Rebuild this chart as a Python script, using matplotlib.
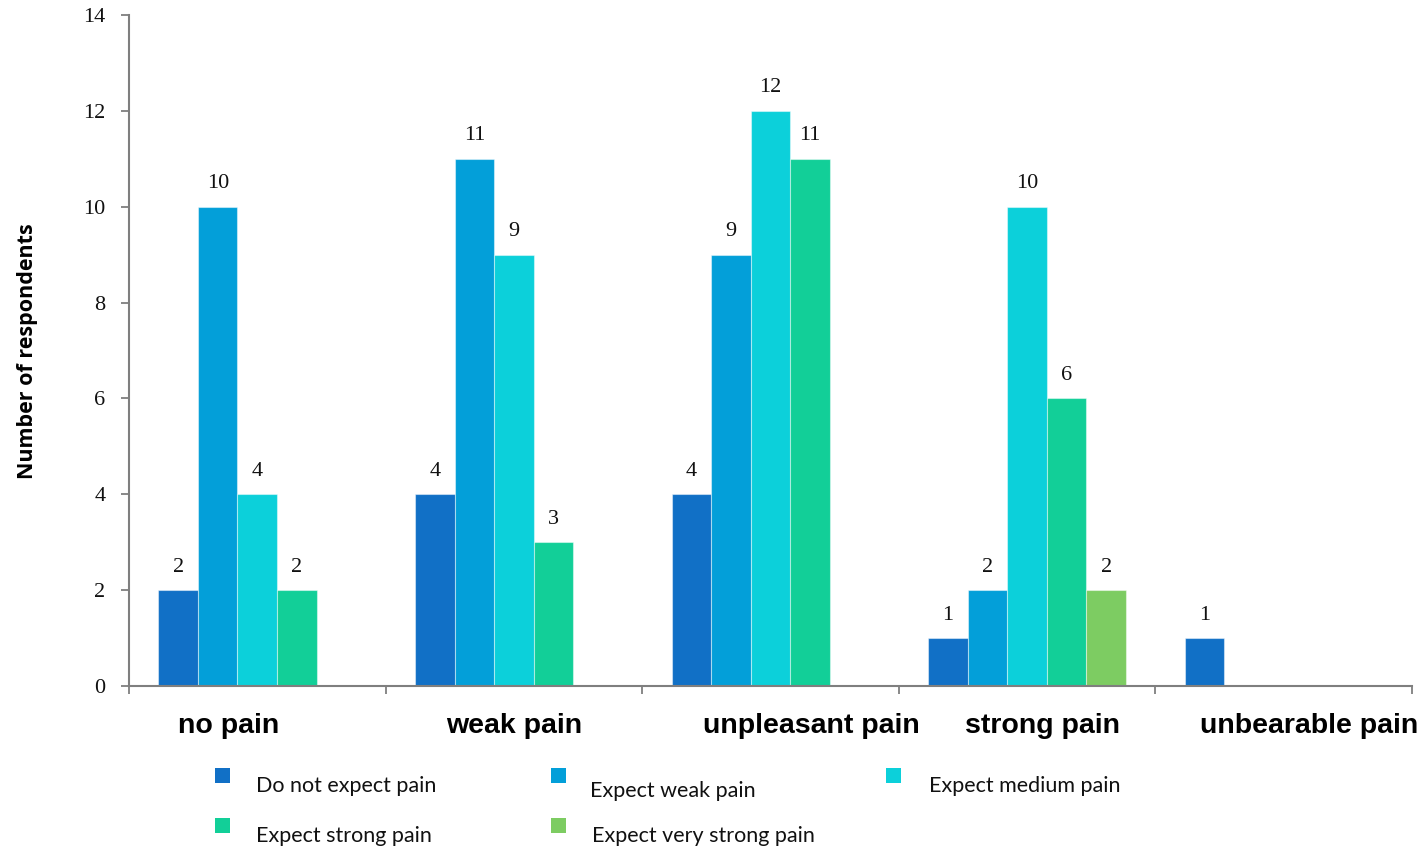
import matplotlib

matplotlib.use("Agg")
import matplotlib.pyplot as plt
import numpy as np
from matplotlib.patches import Rectangle

categories = ["no pain", "weak pain", "unpleasant pain", "strong pain", "unbearable pain"]
series = ["Do not expect pain", "Expect weak pain", "Expect medium pain",
          "Expect strong pain", "Expect very strong pain"]
do_not_expect = [2, 4, 4, 1, 1]
expect_weak = [10, 11, 9, 2, 0]
expect_medium = [4, 9, 12, 10, 0]
expect_strong = [2, 3, 11, 6, 0]
expect_very_strong = [0, 0, 0, 2, 0]
colors = ["#1170C6", "#039FD9", "#0CD0DA", "#12CF98", "#7DCC62"]

# small shifts of the category names, as they sit under the groups
label_shift = [-0.11, 0.0, 0.16, 0.06, 0.10]

SERIF = "Liberation Serif"

fig = plt.figure(figsize=(14.28, 8.49), dpi=100)
ax = fig.add_axes([0.0903, 0.1920, 0.8985, 0.7903])

values = [do_not_expect, expect_weak, expect_medium, expect_strong, expect_very_strong]
x = np.arange(len(categories))
w = 0.154
for i, (vals, col) in enumerate(zip(values, colors)):
    pos = x + (i - 2) * w
    vals = np.array(vals)
    keep = vals > 0
    ax.bar(pos[keep], vals[keep], width=w, color=col,
           edgecolor=(1, 1, 1, 0.45), linewidth=0.8, zorder=2)
    for px, v in zip(pos[keep], vals[keep]):
        ax.text(px, v + 0.28, str(v), ha="center", va="bottom",
                fontsize=16, family=SERIF, color="#111111")

ax.set_xlim(-0.5, len(categories) - 0.5)
ax.set_ylim(0, 14)
ax.set_yticks(np.arange(0, 15, 2))
ax.set_xticks(np.arange(-0.5, len(categories), 1.0))
ax.set_xticklabels([])
for s in ("top", "right"):
    ax.spines[s].set_visible(False)
for s in ("left", "bottom"):
    ax.spines[s].set_color("#7f7f7f")
    ax.spines[s].set_linewidth(1.5)
ax.tick_params(axis="both", colors="#7f7f7f", width=1.3, length=6)
ax.tick_params(axis="y", labelcolor="#111111", pad=11)
for t in ax.get_yticklabels():
    t.set_family(SERIF)
    t.set_fontsize(16)

for xi, name, dx in zip(x, categories, label_shift):
    ax.text(xi + dx, -0.83, name, ha="center", va="center",
            fontsize=20.5, fontweight="bold", family="Liberation Sans",
            transform=ax.transData)

fig.text(0.019, 0.587, "Number of respondents", rotation=90, ha="center",
         va="center", fontsize=15.5, fontweight="bold", family="Open Sans")

# legend laid out in two rows below the plot
legend_pos = [(222, 776, 256, 786), (558, 776, 590, 791), (893, 776, 929, 786),
              (222, 826, 256, 836), (558, 826, 592, 836)]
W, H = 1428, 849
for (sx, sy, tx, ty), name, col in zip(legend_pos, series, colors):
    fig.add_artist(Rectangle(((sx - 7) / W, 1 - (sy + 7) / H), 15 / W, 15 / H,
                             transform=fig.transFigure, facecolor=col,
                             edgecolor="none"))
    fig.text(tx / W, 1 - ty / H, name, ha="left", va="center",
             fontsize=15.5, family="Lato", color="#111111")

fig.savefig("out.png", dpi=100)
